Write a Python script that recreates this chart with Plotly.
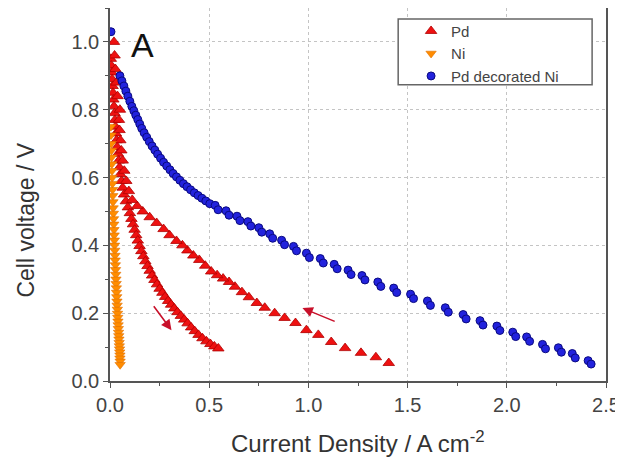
import plotly.graph_objects as go

# Pd: forward sweep (steep branch) then return sweep (upper branch)
pd_x = [0.004, 0.007, 0.009, 0.011, 0.013, 0.015, 0.017, 0.020, 0.023, 0.025, 0.028, 0.030, 0.033,
        0.036, 0.040, 0.044, 0.048, 0.052, 0.058, 0.064, 0.071, 0.080, 0.090, 0.100, 0.108, 0.116,
        0.124, 0.132, 0.140, 0.149, 0.158, 0.168, 0.178, 0.189, 0.200, 0.212, 0.224, 0.237, 0.250,
        0.264, 0.278, 0.293, 0.308, 0.324, 0.340, 0.357, 0.374, 0.391, 0.409, 0.427, 0.446, 0.466,
        0.486, 0.506, 0.526, 0.546,
        1.405, 1.340, 1.265, 1.185, 1.115, 1.050, 0.990, 0.935, 0.880, 0.830, 0.780, 0.740, 0.700,
        0.665, 0.630, 0.600, 0.570, 0.540, 0.510, 0.480, 0.450, 0.420, 0.390, 0.365, 0.335, 0.300,
        0.270, 0.235, 0.200, 0.165, 0.137, 0.112, 0.095, 0.082, 0.072, 0.064, 0.057, 0.052, 0.048,
        0.045, 0.050, 0.038, 0.032, 0.027, 0.023, 0.020]
pd_y = [0.950, 0.930, 0.910, 0.890, 0.870, 0.850, 0.830, 0.810, 0.790, 0.770, 0.750, 0.730, 0.710,
        0.690, 0.670, 0.650, 0.630, 0.610, 0.590, 0.570, 0.550, 0.530, 0.512, 0.495, 0.478, 0.462,
        0.446, 0.430, 0.414, 0.398, 0.383, 0.368, 0.353, 0.339, 0.325, 0.311, 0.298, 0.285, 0.272,
        0.260, 0.248, 0.236, 0.225, 0.214, 0.203, 0.192, 0.181, 0.170, 0.158, 0.147, 0.136, 0.126,
        0.117, 0.109, 0.102, 0.096,
        0.053, 0.070, 0.083, 0.097, 0.115, 0.136, 0.150, 0.171, 0.186, 0.200, 0.216, 0.230, 0.247,
        0.262, 0.278, 0.292, 0.302, 0.312, 0.323, 0.340, 0.357, 0.370, 0.385, 0.400, 0.413, 0.430,
        0.448, 0.466, 0.483, 0.500, 0.516, 0.534, 0.560, 0.590, 0.620, 0.650, 0.680, 0.710, 0.740,
        0.770, 0.800, 0.840, 0.880, 0.920, 0.960, 1.000]

# Ni
ni_x = [0.004, 0.005, 0.006, 0.007, 0.008, 0.009, 0.010, 0.011, 0.012, 0.013, 0.014, 0.015, 0.016,
        0.017, 0.018, 0.019, 0.020, 0.021, 0.022, 0.023, 0.024, 0.025, 0.026, 0.027, 0.028, 0.029,
        0.030, 0.031, 0.032, 0.033, 0.034, 0.035, 0.036, 0.037, 0.038, 0.039, 0.040, 0.041, 0.042,
        0.043, 0.044, 0.045, 0.046, 0.047, 0.048, 0.049, 0.050, 0.050, 0.051, 0.051]
ni_y = [0.750, 0.725, 0.700, 0.680, 0.660, 0.640, 0.620, 0.600, 0.582, 0.564, 0.546, 0.528, 0.510,
        0.494, 0.478, 0.462, 0.446, 0.430, 0.415, 0.400, 0.385, 0.370, 0.356, 0.342, 0.328, 0.314,
        0.300, 0.287, 0.274, 0.261, 0.248, 0.235, 0.223, 0.211, 0.199, 0.187, 0.176, 0.165, 0.154,
        0.143, 0.133, 0.123, 0.113, 0.103, 0.094, 0.085, 0.076, 0.067, 0.058, 0.048]

# Pd decorated Ni (pairs of overlapping points)
pdni_x = [0.005, 0.050, 0.060, 0.070, 0.080, 0.090, 0.100, 0.110, 0.120, 0.130, 0.140, 0.150, 0.160,
          0.172, 0.185, 0.198, 0.212, 0.226, 0.240, 0.255, 0.270, 0.286, 0.302, 0.318, 0.335, 0.352,
          0.370, 0.388, 0.406, 0.425, 0.444, 0.463, 0.483, 0.503,
          0.530, 0.545, 0.585, 0.600, 0.640, 0.655, 0.695, 0.710, 0.750, 0.765, 0.805, 0.820,
          0.865, 0.880, 0.925, 0.940, 0.990, 1.005, 1.060, 1.075, 1.130, 1.145, 1.200, 1.215,
          1.270, 1.285, 1.350, 1.365, 1.430, 1.445, 1.515, 1.530, 1.600, 1.615, 1.690, 1.705,
          1.780, 1.795, 1.865, 1.880, 1.950, 1.965, 2.030, 2.045, 2.100, 2.115, 2.180, 2.195,
          2.260, 2.275, 2.330, 2.345, 2.410, 2.425]
pdni_y = [1.030, 0.900, 0.885, 0.870, 0.855, 0.840, 0.825, 0.810, 0.797, 0.784, 0.771, 0.758, 0.745,
          0.732, 0.719, 0.706, 0.693, 0.681, 0.669, 0.657, 0.645, 0.634, 0.623, 0.612, 0.602, 0.592,
          0.582, 0.573, 0.564, 0.555, 0.547, 0.539, 0.531, 0.523,
          0.518, 0.505, 0.502, 0.489, 0.486, 0.473, 0.470, 0.457, 0.452, 0.439, 0.434, 0.421,
          0.415, 0.402, 0.397, 0.384, 0.377, 0.364, 0.361, 0.348, 0.344, 0.331, 0.327, 0.314,
          0.311, 0.298, 0.292, 0.279, 0.274, 0.261, 0.256, 0.243, 0.236, 0.223, 0.216, 0.203,
          0.196, 0.183, 0.178, 0.165, 0.162, 0.149, 0.144, 0.131, 0.130, 0.117, 0.108, 0.095,
          0.098, 0.085, 0.081, 0.068, 0.060, 0.050]

# Sweep-direction arrows: (tail_x, tail_y, head_x, head_y)
arrows = [(0.215, 0.225, 0.31, 0.15), (1.14, 0.174, 0.97, 0.215)]

FONT = "Liberation Sans, Arial"

fig = go.Figure()
fig.add_trace(go.Scatter(x=pd_x, y=pd_y, mode="markers", name="Pd",
                         marker=dict(symbol="triangle-up", size=10, color="#ee1111",
                                     line=dict(color="#b00000", width=0.8))))
fig.add_trace(go.Scatter(x=ni_x, y=ni_y, mode="markers", name="Ni",
                         marker=dict(symbol="triangle-down", size=9, color="#ff8c00",
                                     line=dict(color="#e07000", width=0.6))))
fig.add_trace(go.Scatter(x=pdni_x, y=pdni_y, mode="markers", name="Pd decorated Ni",
                         marker=dict(symbol="circle", size=8, color="#2222dd",
                                     line=dict(color="#0a0a80", width=1))))

for tx, ty, hx, hy in arrows:
    fig.add_annotation(x=hx, y=hy, ax=tx, ay=ty, xref="x", yref="y", axref="x", ayref="y",
                       text="", showarrow=True, arrowhead=2, arrowsize=1.3, arrowwidth=1.6,
                       arrowcolor="#c8102a")

fig.add_annotation(x=0.166, y=0.99, xref="x", yref="y", text="A", showarrow=False,
                   font=dict(size=34, color="#111111", family=FONT))

# axis titles
fig.add_annotation(x=0.5, y=0, xref="paper", yref="paper", yshift=-61, yanchor="middle",
                   text="Current Density / A cm<sup>-2</sup>", showarrow=False,
                   font=dict(size=24, color="#333333", family=FONT))
fig.add_annotation(x=0, y=0.43, xref="paper", yref="paper", xshift=-84, xanchor="center",
                   yanchor="middle", textangle=-90, text="Cell voltage / V", showarrow=False,
                   font=dict(size=23, color="#333333", family=FONT))

# legend frame
fig.add_shape(type="rect", xref="paper", yref="paper", x0=0.581, x1=0.972, y0=0.794, y1=0.9705,
              line=dict(color="#666666", width=1.5), fillcolor="white", layer="above")

axis_common = dict(showline=True, linecolor="#555555", linewidth=1.5, mirror=True,
                   ticks="outside", ticklen=5, tickcolor="#555555",
                   showgrid=True, gridcolor="#c4c4c4", griddash="dot", gridwidth=1,
                   zeroline=False, automargin=False,
                   tickfont=dict(size=20, color="#444444", family=FONT))

fig.update_xaxes(range=[0, 2.5], dtick=0.5, tickformat=".1f",
                 minor=dict(dtick=0.25, ticks="outside", ticklen=3, tickcolor="#555555", showgrid=False),
                 **axis_common)
fig.update_yaxes(range=[0, 1.1], dtick=0.2, tickformat=".1f",
                 minor=dict(dtick=0.1, ticks="outside", ticklen=3, tickcolor="#555555", showgrid=False),
                 **axis_common)

# page body has an 8px margin, so the figure is sized to fit the window from (8, 8)
fig.update_layout(width=615, height=449, margin=dict(l=102, r=17, t=0, b=76),
                  paper_bgcolor="white", plot_bgcolor="white",
                  font=dict(family=FONT, color="#333333"),
                  legend=dict(x=0.607, y=0.982, xanchor="left", yanchor="top",
                              bgcolor="rgba(0,0,0,0)", borderwidth=0,
                              font=dict(size=15, color="#444444", family=FONT),
                              tracegroupgap=0))

fig.write_html("out.html")
